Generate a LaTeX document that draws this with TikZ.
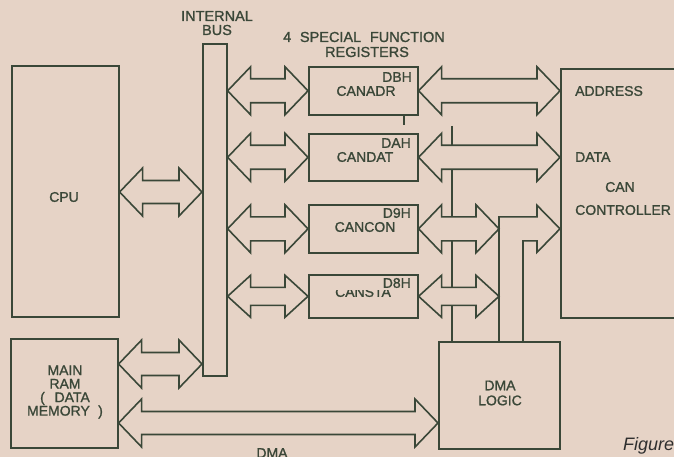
\documentclass[tikz,border=0pt]{standalone}
\usepackage{fontspec}
\setmainfont{Liberation Sans}
\newfontfamily\lblfont{Liberation Sans}[FakeBold=1.2]
\usetikzlibrary{calc}
\definecolor{bgcol}{HTML}{E6D3C6}
\definecolor{inkcol}{HTML}{3A4738}
\definecolor{figcol}{HTML}{2E2E2E}
\tikzset{
  box/.style={draw=inkcol, line width=1.6pt, anchor=north west, inner sep=0pt},
  bline/.style={draw=inkcol, line width=1.6pt, line join=miter},
  barrow/.style={draw=inkcol, fill=bgcol, line width=1.6pt, line join=miter},
  lbl/.style={inner sep=0pt, text=inkcol, font=\lblfont\fontsize{14}{16}\selectfont},
  head/.style={inner sep=0pt, text=inkcol, font=\lblfont\fontsize{14.5}{16}\selectfont},
}
% #1 left tip, #2 right tip (same height), #3 head half-height, #4 shaft half-height
\newcommand\blockarrow[4]{%
  \path[barrow] let \p1=#1, \p2=#2 in
   (\x1,\y1) -- (\x1+23pt,\y1+#3pt) -- (\x1+23pt,\y1+#4pt) -- (\x2-23pt,\y1+#4pt)
   -- (\x2-23pt,\y1+#3pt) -- (\x2,\y1) -- (\x2-23pt,\y1-#3pt) -- (\x2-23pt,\y1-#4pt)
   -- (\x1+23pt,\y1-#4pt) -- (\x1+23pt,\y1-#3pt) -- cycle;}
\begin{document}
\begin{tikzpicture}[x=1pt,y=-1pt]
\useasboundingbox (0,0) rectangle (674,457);
\fill[bgcol] (0,0) rectangle (674,457);

% boxes
\node[box, minimum width=107pt, minimum height=251pt] (cpu) at (11,65) {};
\node[box, minimum width=24pt, minimum height=332pt] (bus) at (202,43) {};
\node[box, minimum width=107pt, minimum height=109pt] (ram) at (10,338) {};
\node[box, minimum width=109pt, minimum height=48pt] (adr) at (308,66) {};
\node[box, minimum width=109pt, minimum height=47pt] (dat) at (308,133) {};
\node[box, minimum width=109pt, minimum height=48pt] (con) at (308,204) {};
\node[box, minimum width=109pt, minimum height=43pt] (sta) at (308,274) {};
\node[box, minimum width=130pt, minimum height=249pt] (ctl) at (560,68) {};
\node[box, minimum width=121pt, minimum height=107pt] (dma) at (438,341) {};

% helper coordinates
\coordinate (ycpu) at (0,192);
\coordinate (yram) at (0,364);
\coordinate (ydma) at (0,423);
\coordinate (xo) at (499,0);
\coordinate (xi) at (523,0);
\coordinate (xd) at (452,0);
\coordinate (xt) at (404,0);
\coordinate (ttop) at (0,125);
\coordinate (dtop) at (0,126);

% DMA logic line to the registers (under the arrows)
\draw[bline] (xd |- dtop) -- (xd |- dma.north);
\draw[bline] (xt |- adr.south) -- (xt |- ttop);

% block arrows
\blockarrow{(cpu.east |- ycpu)}{(bus.west |- ycpu)}{24}{11.5}
\blockarrow{(ram.east |- yram)}{(bus.west |- yram)}{24}{11.5}
\blockarrow{(ram.east |- ydma)}{(dma.west |- ydma)}{24}{11.5}
\blockarrow{(bus.east |- adr.west)}{(adr.west)}{24}{12}
\blockarrow{(bus.east |- dat.west)}{(dat.west)}{24}{12}
\blockarrow{(bus.east |- con.west)}{(con.west)}{24}{12}
\blockarrow{(bus.east |- sta.west)}{(sta.west)}{21}{9}
\blockarrow{(adr.east)}{(ctl.west |- adr.east)}{24}{12}
\blockarrow{(dat.east)}{(ctl.west |- dat.east)}{24}{12}
\blockarrow{(con.east)}{(xo |- con.east)}{24}{12}
\blockarrow{(sta.east)}{(xo |- sta.east)}{21}{9}

% L-shaped arrow from DMA logic to the controller
\coordinate (ctip) at (ctl.west |- con.east);
\draw[bline] (dma.north -| xo) -- ($(xo |- ctip)+(0,-12)$) -- ($(ctip)+(-23,-12)$)
  -- ($(ctip)+(-23,-23.5)$) -- (ctip) -- ($(ctip)+(-23,23.5)$) -- ($(ctip)+(-23,12)$)
  -- ($(xi |- ctip)+(0,12)$) -- (dma.north -| xi);

% labels
\node[head] (tbus1) at (217,16) {INTERNAL};
\node[head] (tbus2) at (217,30) {BUS};
\node[head] (tsfr1) at (364,37) {4\hspace{0.6em}SPECIAL\hspace{0.6em}FUNCTION};
\node[head] (tsfr2) at (367,52) {REGISTERS};
\node[lbl] (tcpu) at (64,197) {CPU};
\node[lbl, align=center, font=\lblfont\fontsize{14}{13.5}\selectfont] (tram) at (65,392)
  {MAIN\\RAM\\(\hspace{0.7em}DATA\\MEMORY\hspace{0.6em})};

\node[lbl, anchor=east] (hadr) at (412,77) {DBH};
\node[lbl] (tadr) at (366,91) {CANADR};
\node[lbl, anchor=east] (hdat) at (411,143) {DAH};
\node[lbl] (tdat) at (365,157) {CANDAT};
\node[lbl, anchor=east] (hcon) at (411,213) {D9H};
\node[lbl] (tcon) at (365,227) {CANCON};
\node[lbl, anchor=east] (hsta) at (411,283) {D8H};
\begin{scope}
  \clip (320,290) rectangle (410,302);
  \node[lbl] (tsta) at (363,292) {CANSTA};
\end{scope}

\node[lbl, anchor=west] (taddr) at (575,91) {ADDRESS};
\node[lbl, anchor=west] (tdata) at (575,157) {DATA};
\node[lbl] (tcan) at (620,187) {CAN};
\node[lbl, anchor=west] (tctl) at (575,210) {CONTROLLER};
\node[lbl, align=center, font=\lblfont\fontsize{14}{15}\selectfont] (tdma) at (500,393) {DMA\\LOGIC};
\node[lbl] (tdmab) at (272,453) {DMA};
\node[inner sep=0pt, anchor=base west, text=figcol, font=\fontsize{18}{20}\selectfont\itshape] (tfig) at (623,450) {Figure};
\end{tikzpicture}
\end{document}
